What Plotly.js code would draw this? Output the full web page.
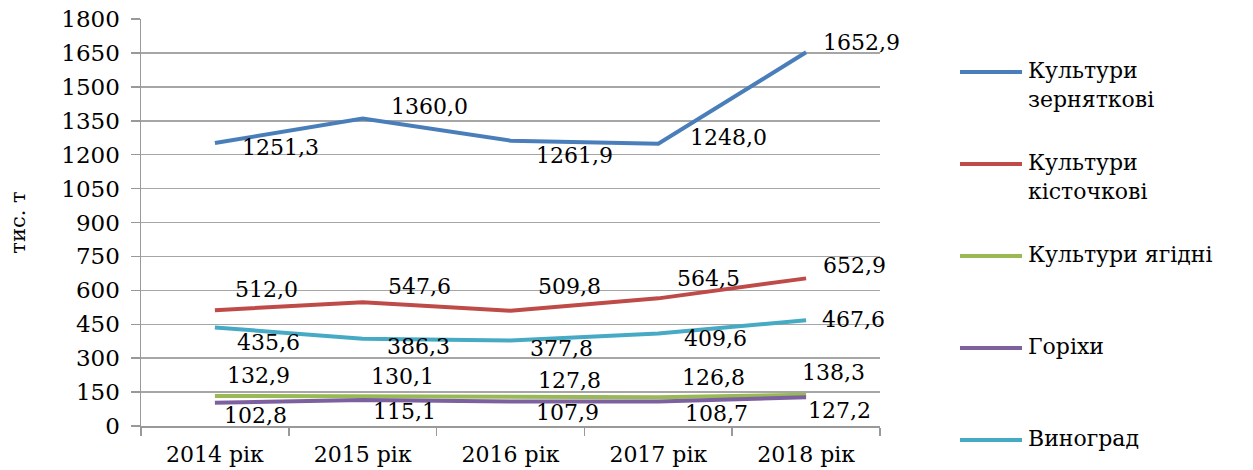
<!DOCTYPE html>
<html>
<head>
<meta charset="utf-8">
<script src="https://cdn.plot.ly/plotly-3.0.1.min.js"></script>
<style>html,body{margin:0;padding:0;background:#fff;}</style>
</head>
<body>
<div id="chart" style="width:1253px;height:470px;"></div>
<script>
const years = ["2014 рік", "2015 рік", "2016 рік", "2017 рік", "2018 рік"];
const seriesNames = ["Культури<br>зерняткові", "Культури<br>кісточкові", "Культури ягідні", "Горіхи", "Виноград"];
const pome = [1251.3, 1360.0, 1261.9, 1248.0, 1652.9];
const stone = [512.0, 547.6, 509.8, 564.5, 652.9];
const berry = [132.9, 130.1, 127.8, 126.8, 138.3];
const nuts = [102.8, 115.1, 107.9, 108.7, 127.2];
const grapes = [435.6, 386.3, 377.8, 409.6, 467.6];
const yTicks = [0, 150, 300, 450, 600, 750, 900, 1050, 1200, 1350, 1500, 1650, 1800];

const allSeries = [pome, stone, berry, nuts, grapes];
const colors = ["#4a7ebb", "#be4b48", "#98b954", "#7d60a0", "#46aac5"];

// label offsets in pixels [xshift, yshift] (styling only)
const labelOffsets = [
  [[25,-4],[26,12],[23,-15],[30,6],[15,10]],
  [[18,21],[23,16],[25,24],[17,20],[15,13]],
  [[10,20],[6,20],[25,17],[22,20],[-6,22]],
  [[7,-13],[8,-12],[23,-11],[25,-12],[0,-13]],
  [[20,-15],[22,-8],[17,-8],[24,-5],[14,1]]
];

const FONT = "DejaVu Serif, Liberation Serif, serif";
const fmt = v => v.toFixed(1).replace(".", ",");

const traces = allSeries.map((s, i) => ({
  type: "scatter",
  mode: "lines",
  x: years,
  y: s,
  name: seriesNames[i],
  line: {color: colors[i], width: 4},
  showlegend: false,
  hoverinfo: "x+y+name"
}));

const annotations = [];
allSeries.forEach((s, i) => {
  s.forEach((v, j) => {
    annotations.push({
      x: years[j], y: v, xref: "x", yref: "y",
      text: fmt(v), showarrow: false,
      xanchor: "left", yanchor: "middle",
      xshift: labelOffsets[i][j][0], yshift: labelOffsets[i][j][1],
      font: {family: FONT, size: 22, color: "#000"}
    });
  });
});

// manual legend
const plotL = 141, plotR = 880, plotT = 19, plotB = 426;
const px2x = p => (p - plotL) / (plotR - plotL);
const px2y = p => (plotB - p) / (plotB - plotT);
const legendY = [72, 164, 256, 348, 440];
const shapes = [];
seriesNames.forEach((n, i) => {
  shapes.push({
    type: "line", xref: "paper", yref: "paper",
    x0: px2x(960), x1: px2x(1022), y0: px2y(legendY[i]), y1: px2y(legendY[i]),
    line: {color: colors[i], width: 4}
  });
  annotations.push({
    xref: "paper", yref: "paper", x: px2x(1026), y: px2y(legendY[i] - 16),
    xanchor: "left", yanchor: "top", align: "left",
    text: n, showarrow: false,
    font: {family: FONT, size: 22, color: "#000"}
  });
});

const layout = {
  width: 1253, height: 470, autosize: false,
  margin: {l: plotL, r: 1253 - plotR, t: plotT, b: 470 - plotB, pad: 0},
  paper_bgcolor: "#fff", plot_bgcolor: "#fff",
  showlegend: false,
  font: {family: FONT, size: 22, color: "#000"},
  xaxis: {
    type: "category",
    range: [-0.5, 4.5],
    tickson: "boundaries",
    ticks: "outside", ticklen: 8, tickcolor: "#999", tickwidth: 1.5,
    showline: true, linecolor: "#999", linewidth: 1.5,
    showgrid: false,
    tickfont: {family: FONT, size: 22, color: "#000"},
    ticklabelstandoff: 8,
    fixedrange: true
  },
  yaxis: {
    range: [0, 1800],
    tickvals: yTicks,
    ticktext: yTicks.map(String),
    ticks: "outside", ticklen: 9, tickcolor: "#999", tickwidth: 1.5,
    showline: true, linecolor: "#999", linewidth: 1.5,
    showgrid: true, gridcolor: "#a6a6a6", gridwidth: 1.5,
    zeroline: false,
    tickfont: {family: FONT, size: 23, color: "#000"},
    ticklabelstandoff: 6,
    title: {text: "тис. т", font: {family: FONT, size: 21, color: "#000"}, standoff: 30},
    fixedrange: true
  },
  annotations: annotations,
  shapes: shapes
};

Plotly.newPlot("chart", traces, layout, {displayModeBar: false, staticPlot: true});
</script>
</body>
</html>
